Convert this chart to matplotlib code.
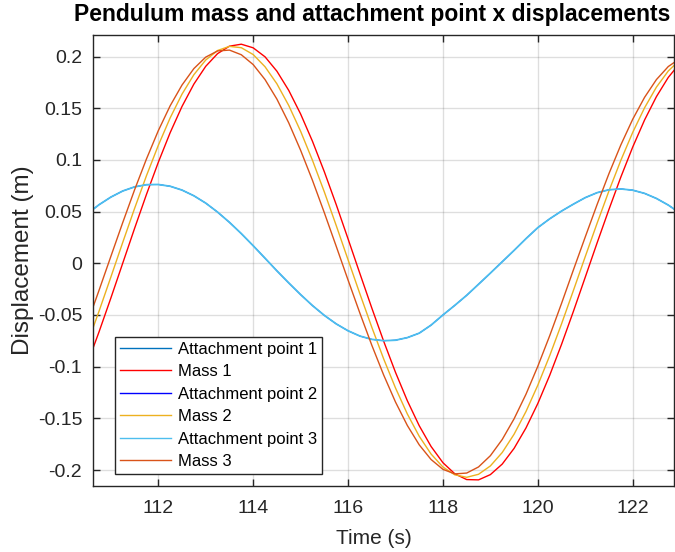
import matplotlib
matplotlib.use('Agg')
import matplotlib.pyplot as plt

plt.rcParams['font.family'] = ['Liberation Sans', 'DejaVu Sans']
plt.rcParams['axes.unicode_minus'] = False

# sample times (s)
time = [110.5, 110.75, 111.0, 111.25, 111.5, 111.75, 112.0, 112.25, 112.5, 112.75,
        113.0, 113.25, 113.5, 113.75, 114.0, 114.25, 114.5, 114.75, 115.0, 115.25,
        115.5, 115.75, 116.0, 116.25, 116.5, 116.75, 117.0, 117.25, 117.5, 117.75,
        118.0, 118.25, 118.5, 118.75, 119.0, 119.25, 119.5, 119.75, 120.0, 120.25,
        120.5, 120.75, 121.0, 121.25, 121.5, 121.75, 122.0, 122.25, 122.5, 122.75,
        123.0]

# attachment point x displacement (the three attachment points overlap)
attach = [0.0477, 0.0566, 0.0640, 0.0699, 0.0739, 0.0760, 0.0762, 0.0745, 0.0708, 0.0653,
          0.0582, 0.0495, 0.0396, 0.0287, 0.0170, 0.0049, -0.0073, -0.0190, -0.0303, -0.0409,
          -0.0504, -0.0586, -0.0653, -0.0704, -0.0736, -0.0749, -0.0744, -0.0719, -0.0676, -0.0598,
          -0.0500, -0.0407, -0.0310, -0.0203, -0.0095, 0.0015, 0.0125, 0.0238, 0.0345, 0.0430,
          0.0505, 0.0572, 0.0635, 0.0683, 0.0711, 0.0719, 0.0707, 0.0676, 0.0627, 0.0563,
          0.0484]
attach1 = attach
attach2 = attach
attach3 = attach

mass1 = [-0.0976, -0.0665, -0.0337, 0.0000, 0.0337, 0.0665, 0.0976, 0.1263, 0.1517, 0.1733,
         0.1905, 0.2028, 0.2100, 0.2119, 0.2084, 0.1997, 0.1858, 0.1672, 0.1444, 0.1180,
         0.0885, 0.0568, 0.0236, -0.0100, -0.0432, -0.0753, -0.1055, -0.1330, -0.1571, -0.1772,
         -0.1929, -0.2036, -0.2092, -0.2095, -0.2044, -0.1942, -0.1790, -0.1593, -0.1356, -0.1084,
         -0.0784, -0.0465, -0.0134, 0.0198, 0.0522, 0.0834, 0.1124, 0.1386, 0.1612, 0.1798,
         0.1938]

mass2 = [-0.0784, -0.0465, -0.0134, 0.0201, 0.0530, 0.0846, 0.1140, 0.1406, 0.1636, 0.1824,
         0.1966, 0.2058, 0.2098, 0.2085, 0.2019, 0.1901, 0.1736, 0.1526, 0.1277, 0.0996,
         0.0690, 0.0366, 0.0034, -0.0296, -0.0618, -0.0924, -0.1206, -0.1458, -0.1673, -0.1845,
         -0.1971, -0.2046, -0.2070, -0.2041, -0.1960, -0.1830, -0.1653, -0.1434, -0.1179, -0.0894,
         -0.0586, -0.0263, 0.0065, 0.0388, 0.0701, 0.0996, 0.1266, 0.1504, 0.1704, 0.1860,
         0.1970]

mass3 = [-0.0585, -0.0263, 0.0066, 0.0393, 0.0710, 0.1008, 0.1282, 0.1523, 0.1724, 0.1883,
         0.1994, 0.2054, 0.2062, 0.2017, 0.1922, 0.1777, 0.1588, 0.1358, 0.1093, 0.0802,
         0.0489, 0.0165, -0.0162, -0.0483, -0.0792, -0.1080, -0.1342, -0.1569, -0.1756, -0.1898,
         -0.1993, -0.2037, -0.2029, -0.1970, -0.1861, -0.1704, -0.1504, -0.1267, -0.0996, -0.0701,
         -0.0388, -0.0064, 0.0255, 0.0569, 0.0868, 0.1145, 0.1393, 0.1605, 0.1777, 0.1903,
         0.1982]

x_ticks = [112, 114, 116, 118, 120, 122]
y_ticks = [-0.2, -0.15, -0.1, -0.05, 0, 0.05, 0.1, 0.15, 0.2]
y_ticklabels = ['-0.2', '-0.15', '-0.1', '-0.05', '0', '0.05', '0.1', '0.15', '0.2']

fig = plt.figure(figsize=(6.75, 5.52), dpi=100)
ax = fig.add_axes([0.1382, 0.1196, 0.8603, 0.8170])

ax.plot(time, attach1, color='#0072BD', lw=0.6, label='Attachment point 1')
ax.plot(time, mass1, color='#FF0000', lw=1.0, label='Mass 1')
ax.plot(time, attach2, color='#0000FF', lw=0.6, label='Attachment point 2')
ax.plot(time, mass2, color='#EDB120', lw=1.0, label='Mass 2')
ax.plot(time, attach3, color='#4DBEEE', lw=1.3, label='Attachment point 3')
ax.plot(time, mass3, color='#D95319', lw=1.0, label='Mass 3')

ax.set_xlim(110.63, 122.87)
ax.set_ylim(-0.2154, 0.2208)
ax.set_xticks(x_ticks)
ax.set_yticks(y_ticks)
ax.set_yticklabels(y_ticklabels)

ax.grid(True, color='#262626', alpha=0.15, linewidth=1.0)
ax.tick_params(direction='in', length=5, width=1, colors='#262626',
               labelsize=14, top=True, right=True, pad=8)
ax.tick_params(axis='x', pad=10)
for s in ax.spines.values():
    s.set_color('#262626')
    s.set_linewidth(1.0)

ax.set_xlabel('Time (s)', fontsize=15, color='#262626')
ax.xaxis.set_label_coords((374 - 93.3) / 580.7, -0.095)
ax.set_ylabel('Displacement (m)', fontsize=17.5, color='#262626', labelpad=3)
fig.text(372.5 / 675, 1 - 21 / 552, 'Pendulum mass and attachment point x displacements',
         ha='center', va='baseline', fontsize=16.5, fontweight='bold')

leg = ax.legend(loc='lower left', bbox_to_anchor=(0.037, 0.026), fontsize=12,
                fancybox=False, framealpha=1, edgecolor='#262626',
                handlelength=3.1, handletextpad=0.4, borderpad=0.3,
                labelspacing=0.45, borderaxespad=0)
leg.get_frame().set_linewidth(1.0)
for line in leg.get_lines():
    line.set_linewidth(1.0)

fig.savefig('out.png', dpi=100)
